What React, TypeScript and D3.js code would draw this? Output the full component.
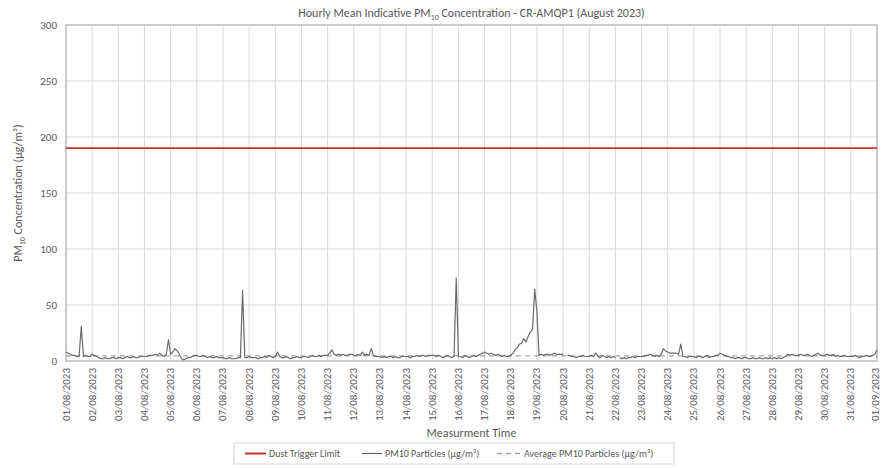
import React from "react";
import * as d3 from "d3";

// ---- Data (2-hourly readings, 12 per day, from 01/08/2023 00:00) ----
const pm10: (number | null)[] = [
  // 01/08
  8, 7, 6, 5, 5, 4, 4, 31, 4, 5, 4, 4,
  // 02/08
  6, 5, 4, 3, 2, 2, 3, 2, 2, 3, 3, 2,
  // 03/08
  3, 3, 2, 3, 4, 3, 3, 4, 3, 3, 4, 4,
  // 04/08
  4, 4, 5, 5, 5, 6, 5, 7, 5, 4, 6, 19,
  // 05/08
  6, 8, 11, 9, 6, 2, 1, 2, 3, 3, 4, 5,
  // 06/08
  5, 4, 4, 5, 4, 3, 4, 3, 3, 4, 3, 3,
  // 07/08
  3, 2, 2, 3, 2, 2, 2, 3, 3, 63, 3, 3,
  // 08/08
  4, 3, 3, 3, 2, 3, 3, 4, 3, 5, 4, 3,
  // 09/08
  4, 8, 4, 3, 3, 4, 3, 2, 3, 3, 4, 3,
  // 10/08
  3, 4, 4, 3, 4, 5, 4, 4, 5, 4, 5, 5,
  // 11/08
  5, 7, 10, 6, 5, 6, 5, 6, 5, 5, 6, 6,
  // 12/08
  5, 5, 6, 5, 8, 5, 6, 5, 11, 5, 4, 4,
  // 13/08
  4, 3, 4, 3, 4, 4, 3, 4, 3, 3, 4, 4,
  // 14/08
  4, 4, 3, 4, 4, 5, 4, 5, 5, 4, 5, 5,
  // 15/08
  5, 5, 4, 5, 4, 3, 4, 5, 4, 3, 4, 74,
  // 16/08
  4, 4, 3, 5, 4, 3, 4, 5, 4, 5, 6, 7,
  // 17/08
  8, 7, 6, 7, 6, 5, 6, 5, 4, 5, 4, 4,
  // 18/08
  5, 7, 10, 12, 15, 16, 20, 17, 22, 26, 28, 64,
  // 19/08
  44, 5, 6, 5, 6, 6, 5, 6, 7, 6, 6, 6,
  // 20/08
  6, null, 5, 5, 4, 4, 3, 4, 4, 5, 4, 4,
  // 21/08
  4, 5, 4, 7, 4, 3, 5, 4, 3, 4, 3, 4,
  // 22/08
  3, null, 3, 2, 3, 2, 3, 3, 4, 3, 4, 4,
  // 23/08
  4, 4, 5, 5, 6, 5, 4, 5, 4, 6, 11, 9,
  // 24/08
  8, 7, 7, 7, 7, 6, 15, 4, 4, 3, 4, 4,
  // 25/08
  4, 3, 4, 4, 3, 4, 5, 3, 4, 4, 5, 5,
  // 26/08
  7, 6, 5, 4, 4, 3, 3, 2, 3, 3, 2, 3,
  // 27/08
  3, 2, 2, 3, 2, 2, 3, 2, 2, 3, 2, 3,
  // 28/08
  2, 3, 2, 3, 2, 3, 4, 6, 5, 6, 5, 5,
  // 29/08
  5, 6, 5, 5, 6, 5, 4, 5, 6, 7, 5, 5,
  // 30/08
  5, 6, 5, 5, 6, 4, 5, 4, 4, 5, 4, 4,
  // 31/08
  4, 4, 5, 4, 3, 4, 4, 5, 4, 4, 5, 6,
  // 01/09 00:00
  10,
];

const dustTriggerLimit = [190];
const averagePm10 = [4.6];
const yTicks = [0, 50, 100, 150, 200, 250, 300];
const legendLabels = [
  "Dust Trigger Limit",
  "PM10 Particles (µg/m³)",
  "Average PM10 Particles (µg/m³)",
];

const startTime = Date.UTC(2023, 7, 1);
const endTime = Date.UTC(2023, 8, 1);
const stepMs = 2 * 3600 * 1000;

const W = 881;
const H = 468;
const plot = { left: 66, right: 877, top: 25, bottom: 361 };
const FONT = "Carlito, Calibri, Lato, 'Open Sans', sans-serif";
const TEXT = "#595959";

export default function App() {
  const x = d3
    .scaleUtc()
    .domain([new Date(startTime), new Date(endTime)])
    .range([plot.left, plot.right]);
  const y = d3.scaleLinear().domain([0, 300]).range([plot.bottom, plot.top]);

  const series = pm10.map((v, i) => ({ t: new Date(startTime + i * stepMs), v }));
  const line = d3
    .line<{ t: Date; v: number | null }>()
    .defined((d) => d.v != null)
    .x((d) => x(d.t))
    .y((d) => y(d.v as number));

  const days = d3.utcDay.range(new Date(startTime), new Date(endTime + 1));
  const fmt = d3.utcFormat("%d/%m/%Y");

  const legendY = 453.5;

  return (
    <svg
      width={W}
      height={H}
      style={{ position: "absolute", left: 0, top: 0, display: "block", background: "#fff" }}
      fontFamily={FONT}
    >
      <rect x={0} y={0} width={W} height={H} fill="#fff" />
      {/* gridlines */}
      {yTicks.map((t) => (
        <line key={"gy" + t} x1={plot.left} x2={plot.right} y1={y(t)} y2={y(t)} stroke="#d9d9d9" strokeWidth={1} />
      ))}
      {days.map((d, i) => (
        <line key={"gx" + i} x1={x(d)} x2={x(d)} y1={plot.top} y2={plot.bottom} stroke="#d9d9d9" strokeWidth={1} />
      ))}
      {/* plot frame */}
      <rect
        x={plot.left}
        y={plot.top}
        width={plot.right - plot.left}
        height={plot.bottom - plot.top}
        fill="none"
        stroke="#bfbfbf"
        strokeWidth={1.5}
      />
      {/* average */}
      <line
        x1={plot.left}
        x2={plot.right}
        y1={y(averagePm10[0])}
        y2={y(averagePm10[0])}
        stroke="#a6a6a6"
        strokeWidth={1.3}
        strokeDasharray="5,4"
      />
      {/* PM10 */}
      <path d={line(series) || ""} fill="none" stroke="#6b6b6b" strokeWidth={1.2} strokeLinejoin="round" />
      {/* trigger */}
      <line
        x1={plot.left}
        x2={plot.right}
        y1={y(dustTriggerLimit[0])}
        y2={y(dustTriggerLimit[0])}
        stroke="#c9302c"
        strokeWidth={1.8}
      />
      {/* y ticks */}
      {yTicks.map((t) => (
        <text key={"ty" + t} x={57} y={y(t)} dy="0.35em" textAnchor="end" fontSize={11} fill={TEXT}>
          {t}
        </text>
      ))}
      {/* x ticks */}
      {days.map((d, i) => (
        <text
          key={"tx" + i}
          transform={`translate(${Math.min(x(d), W - 6)},${plot.bottom + 7}) rotate(-90)`}
          textAnchor="end"
          dy="0.32em"
          fontSize={11}
          fill={TEXT}
        >
          {fmt(d)}
        </text>
      ))}
      {/* title */}
      <text x={(plot.left + plot.right) / 2} y={17} textAnchor="middle" fontSize={12} fill={TEXT}>
        Hourly Mean Indicative PM
        <tspan fontSize={8} dy={3}>10</tspan>
        <tspan dy={-3}> Concentration - CR-AMQP1 (August 2023)</tspan>
      </text>
      {/* y title */}
      <text
        transform={`translate(22,${(plot.top + plot.bottom) / 2}) rotate(-90)`}
        textAnchor="middle"
        fontSize={12}
        fill={TEXT}
      >
        PM
        <tspan fontSize={8} dy={3}>10</tspan>
        <tspan dy={-3}> Concentration (µg/m³)</tspan>
      </text>
      {/* x title */}
      <text x={(plot.left + plot.right) / 2} y={437} textAnchor="middle" fontSize={12} fill={TEXT}>
        Measurment Time
      </text>
      {/* legend */}
      <rect x={234} y={443} width={440} height={21} fill="none" stroke="#d9d9d9" strokeWidth={1} />
      <line x1={245} x2={266} y1={legendY} y2={legendY} stroke="#c9302c" strokeWidth={2} />
      <text x={269} y={legendY} dy="0.35em" fontSize={10} fill={TEXT}>{legendLabels[0]}</text>
      <line x1={362} x2={382} y1={legendY} y2={legendY} stroke="#6b6b6b" strokeWidth={1.2} />
      <text x={385} y={legendY} dy="0.35em" fontSize={10} fill={TEXT}>{legendLabels[1]}</text>
      <line x1={497} x2={521} y1={legendY} y2={legendY} stroke="#a6a6a6" strokeWidth={1.3} strokeDasharray="5,4" />
      <text x={524} y={legendY} dy="0.35em" fontSize={10} fill={TEXT}>{legendLabels[2]}</text>
    </svg>
  );
}
